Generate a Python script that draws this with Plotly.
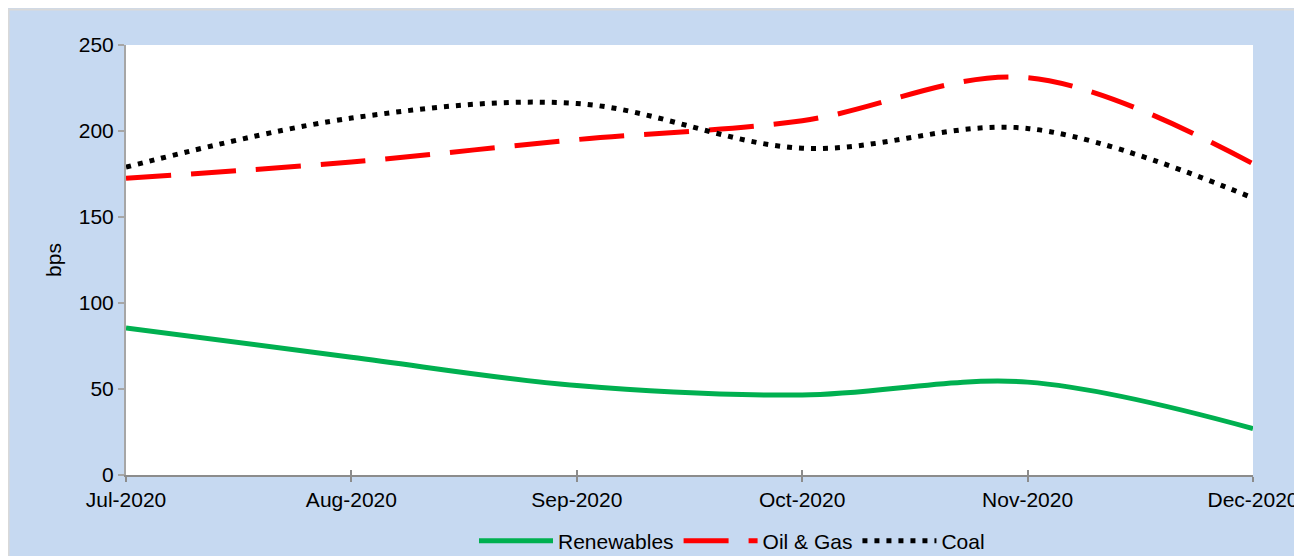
import plotly.graph_objects as go

months = ["Jul-2020", "Aug-2020", "Sep-2020", "Oct-2020", "Nov-2020", "Dec-2020"]
renewables = [85.5, 68.5, 52, 46.5, 54, 27]
oil_gas = [172.5, 182, 195, 206, 231, 181]
coal = [179, 207.5, 216, 190, 201.5, 161]
y_ticks = [0, 50, 100, 150, 200, 250]

FONT = "Liberation Sans, Arial, sans-serif"
BG = "#C6D9F1"

# figure is placed by the page at (8, 8)
W, H = 1294, 548
L, R, T, B = 118, 1245, 37, 467   # plot area in figure pixels

def px_x(p):
    return (p - L) / (R - L)

def px_y(p):
    return (B - p) / (B - T)

fig = go.Figure()
fig.add_trace(go.Scatter(x=months, y=renewables, name="Renewables", mode="lines",
                         line=dict(color="#00B050", width=5, shape="spline", smoothing=1.0)))
fig.add_trace(go.Scatter(x=months, y=oil_gas, name="Oil & Gas", mode="lines",
                         line=dict(color="#FF0000", width=5, shape="spline", smoothing=1.0, dash="45px,20px")))
fig.add_trace(go.Scatter(x=months, y=coal, name="Coal", mode="lines",
                         line=dict(color="#000000", width=5, shape="spline", smoothing=1.0, dash="5px,7px")))
# dummy trace to activate xaxis2 (cross tick marks)
fig.add_trace(go.Scatter(x=months, y=[None] * len(months), xaxis="x2", showlegend=False,
                         hoverinfo="skip", mode="lines"))

# thin grey frame on top/left edges of the chart
fig.add_shape(type="rect", xref="paper", yref="paper",
              x0=px_x(0.5), x1=px_x(W + 20), y0=px_y(H + 20), y1=px_y(1.5),
              fillcolor="rgba(0,0,0,0)", line=dict(color="#D9D9D9", width=2), layer="below")
fig.add_shape(type="rect", xref="paper", yref="paper",
              x0=0, x1=1, y0=0, y1=1,
              fillcolor="white", line=dict(width=0), layer="below")

fig.update_layout(
    width=W, height=H,
    margin=dict(l=L, r=W - R, t=T, b=H - B, pad=0, autoexpand=False),
    paper_bgcolor=BG,
    plot_bgcolor="rgba(0,0,0,0)",
    font=dict(family=FONT, size=21, color="#000000"),
    showlegend=True,
    legend=dict(orientation="h", x=px_x(724), xanchor="center", y=px_y(533), yanchor="middle",
                font=dict(family=FONT, size=21, color="#000000"),
                bgcolor="rgba(0,0,0,0)", itemwidth=74, tracegroupgap=0),
    xaxis=dict(type="category", range=[0, 5], showgrid=False, zeroline=False,
               showline=True, linecolor="#8C8C8C", linewidth=2,
               ticks="outside", ticklen=5, tickcolor="#8C8C8C", tickwidth=2,
               tickfont=dict(family=FONT, size=21), fixedrange=True, automargin=False),
    xaxis2=dict(type="category", range=[0, 5], overlaying="x", matches="x",
                showgrid=False, zeroline=False, showline=False,
                ticks="inside", ticklen=5, tickcolor="#8C8C8C", tickwidth=2,
                showticklabels=False, anchor="y", side="bottom", automargin=False),
    yaxis=dict(range=[0, 250], tickvals=y_ticks, showgrid=False, zeroline=False,
               showline=True, linecolor="#A6A6A6", linewidth=2,
               ticks="outside", ticklen=6, tickcolor="#A6A6A6", tickwidth=2,
               tickfont=dict(family=FONT, size=21), automargin=False,
               title=dict(text="bps", font=dict(family=FONT, size=21), standoff=11)),
)

fig.write_html("out.html")
